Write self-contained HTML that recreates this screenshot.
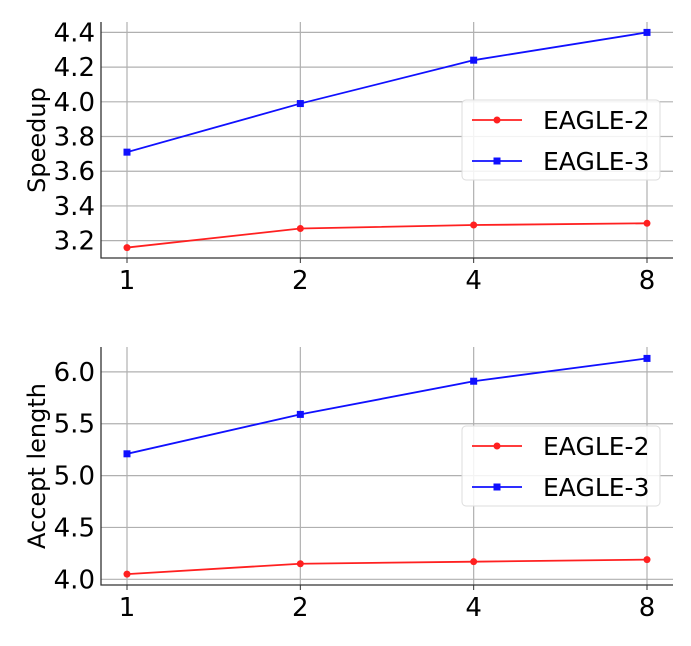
<!DOCTYPE html>
<html><head><meta charset="utf-8"><style>
html,body{margin:0;padding:0;background:#fff;}
svg{display:block;font-family:"DejaVu Sans","Liberation Sans",sans-serif;}
</style></head><body>
<svg id="chart" width="691" height="646" viewBox="0 0 691 646" xmlns="http://www.w3.org/2000/svg"></svg>
<script>
const categories = ["1","2","4","8"];
const speedupEagle2 = [3.16,3.27,3.29,3.30];
const speedupEagle3 = [3.71,3.99,4.24,4.40];
const speedupTicks = [3.2,3.4,3.6,3.8,4.0,4.2,4.4];
const acceptEagle2 = [4.05,4.15,4.17,4.19];
const acceptEagle3 = [5.21,5.59,5.91,6.13];
const acceptTicks = [4.0,4.5,5.0,5.5,6.0];
const seriesNames = ["EAGLE-2","EAGLE-3"];

const NS="http://www.w3.org/2000/svg";
const svg=document.getElementById('chart');
function mk(tag,attrs,parent){const e=document.createElementNS(NS,tag);for(const k in attrs)e.setAttribute(k,attrs[k]);(parent||svg).appendChild(e);return e;}

function panel(cfg){
  const g=mk('g',{});
  
  
  const L=101,R=673,T=cfg.top,B=cfg.bottom;
  const xPos=i=>127+i*(647-127)/(categories.length-1);
  const y=v=>B-(v-cfg.ymin)/(cfg.ymax-cfg.ymin)*(B-T);
  cfg.ticks.forEach(t=>{
    const l=mk('line',{x1:L,x2:R,y1:y(t),y2:y(t),stroke:'#b0b0b0','stroke-width':1.2},g);
    
    
    const tx=mk('text',{x:L-6,y:y(t)+9,'text-anchor':'end','font-size':26,fill:'#000'},g);
    tx.textContent=t.toFixed(1);
    
    
  });
  categories.forEach((c,i)=>{
    const l=mk('line',{x1:xPos(i),x2:xPos(i),y1:T,y2:B,stroke:'#b0b0b0','stroke-width':1.2},g);
    
    
    mk('line',{x1:xPos(i),x2:xPos(i),y1:B,y2:B+5,stroke:'#333','stroke-width':1},g);
    const tx=mk('text',{x:xPos(i),y:B+31,'text-anchor':'middle','font-size':26,fill:'#000'},g);
    tx.textContent=c;
    
    
  });
  const sp=mk('path',{d:`M${L},${T} V${B} H${R}`,fill:'none',stroke:'#333','stroke-width':1.3},g);
  
  
  const yl=mk('text',{transform:`translate(45,${(T+B)/2}) rotate(-90)`,'text-anchor':'middle','font-size':24,fill:'#000'},g);
  yl.textContent=cfg.ylabel;
  
  
  const series=[{vals:cfg.s2,color:'#ff2020',marker:'circle'},{vals:cfg.s3,color:'#1010ff',marker:'square'}];
  series.forEach((s,si)=>{
    const pts=s.vals.map((v,i)=>xPos(i)+','+y(v)).join(' ');
    const pl=mk('polyline',{points:pts,fill:'none',stroke:s.color,'stroke-width':1.8},g);
    
    
    s.vals.forEach((v,i)=>{
      let m;
      if(s.marker==='circle') m=mk('circle',{cx:xPos(i),cy:y(v),r:3.5,fill:s.color},g);
      else m=mk('rect',{x:xPos(i)-3.5,y:y(v)-3.5,width:7,height:7,fill:s.color},g);
      
      
    });
  });
  const lg=mk('g',{},g);
  
  
  mk('rect',{x:462,y:cfg.legTop,width:198,height:80,rx:4,fill:'rgba(255,255,255,0.85)',stroke:'#dcdcdc','stroke-width':1},lg);
  series.forEach((s,si)=>{
    const yy=cfg.legTop+20+si*41;
    const e=mk('g',{},lg);
    
    
    mk('line',{x1:472,x2:522,y1:yy,y2:yy,stroke:s.color,'stroke-width':1.8},e);
    if(s.marker==='circle') mk('circle',{cx:497,cy:yy,r:3.5,fill:s.color},e);
    else mk('rect',{x:493.5,y:yy-3.5,width:7,height:7,fill:s.color},e);
    const t=mk('text',{x:543,y:yy+9,'font-size':25,fill:'#000'},e);
    t.textContent=seriesNames[si];
  });
}
panel({name:'speedup-panel',top:22,bottom:258,ymin:3.10,ymax:4.46,ticks:speedupTicks,s2:speedupEagle2,s3:speedupEagle3,ylabel:'Speedup',legTop:100});
panel({name:'accept-length-panel',top:347,bottom:585,ymin:3.945,ymax:6.24,ticks:acceptTicks,s2:acceptEagle2,s3:acceptEagle3,ylabel:'Accept length',legTop:426});
</script>
</body></html>
